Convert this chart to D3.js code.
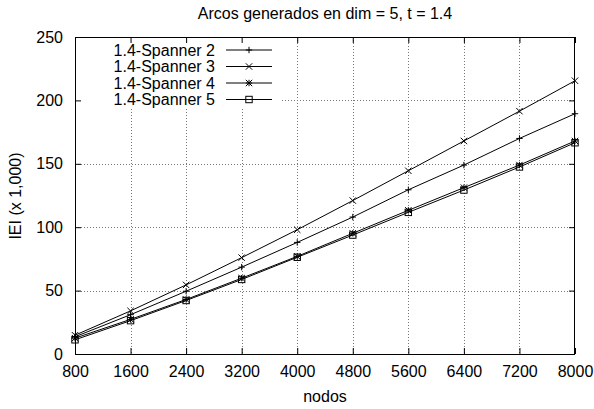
<!DOCTYPE html>
<html><head><meta charset="utf-8">
<script src="https://cdn.jsdelivr.net/npm/d3@7"></script>
<style>body{margin:0;background:#fff}svg{display:block}text{font-family:"Liberation Sans",Arial,sans-serif;fill:#000}</style>
</head><body>
<script>
const nodos = [800,1600,2400,3200,4000,4800,5600,6400,7200,8000];
const spanner2 = [13.6,31,49.5,68.5,88,108,129.5,149,170,189.5];
const spanner3 = [14.8,34,54.5,76,98,121,144.5,168,191.5,215.5];
const spanner4 = [12.5,27.3,43,59.8,77,95.2,113.3,131.2,149,168];
const spanner5 = [11.2,26.3,42.2,58.8,76.3,93.8,111.7,129.3,147.5,166.6];
const seriesNames = ["1.4-Spanner 2","1.4-Spanner 3","1.4-Spanner 4","1.4-Spanner 5"];
const yTicks = [0,50,100,150,200,250];
const title = "Arcos generados en dim = 5, t = 1.4";
const xLabel = "nodos";
const yLabel = "IEI (x 1,000)";

const FS="16px";
const W=594,H=409, m={l:75,r:19,t:37,b:55};
const svg=d3.select("body").append("svg").attr("width",W).attr("height",H);
const x=d3.scaleLinear().domain([800,8000]).range([m.l,W-m.r]);
const y=d3.scaleLinear().domain([0,250]).range([H-m.b,m.t]);
const pw=W-m.r-m.l, ph=H-m.b-m.t;

// grid
const grid=svg.append("g").attr("stroke","#777").attr("stroke-width",1).attr("stroke-dasharray","1,2");
nodos.slice(1,-1).forEach(v=>grid.append("line").attr("x1",Math.round(x(v))+0.5).attr("x2",Math.round(x(v))+0.5).attr("y1",m.t).attr("y2",H-m.b));
yTicks.slice(1,-1).forEach(v=>grid.append("line").attr("y1",Math.round(y(v))+0.5).attr("y2",Math.round(y(v))+0.5).attr("x1",m.l).attr("x2",W-m.r));

// legend background
svg.append("rect").attr("x",m.l+1).attr("y",m.t+1).attr("width",206).attr("height",71).attr("fill","#fff");

// axes with ticks inward
const ax=svg.append("g");
ax.append("g").attr("transform",`translate(0,${H-m.b})`).call(d3.axisBottom(x).tickValues(nodos).tickSize(-6).tickPadding(12).tickFormat(d3.format("d")));
ax.append("g").attr("transform",`translate(0,${m.t})`).call(d3.axisTop(x).tickValues(nodos).tickSize(-6).tickFormat(""));
ax.append("g").attr("transform",`translate(${m.l},0)`).call(d3.axisLeft(y).tickValues(yTicks).tickSize(-6).tickPadding(12));
ax.append("g").attr("transform",`translate(${W-m.r},0)`).call(d3.axisRight(y).tickValues(yTicks).tickSize(-6).tickFormat(""));
ax.selectAll(".domain").remove();
ax.selectAll("line").attr("stroke","#000");
ax.selectAll("text").style("font-size",FS).style("font-family","'Liberation Sans',Arial,sans-serif");
svg.append("rect").attr("x",m.l+0.5).attr("y",m.t+0.5).attr("width",pw-1).attr("height",ph).attr("fill","none").attr("stroke","#000");

// markers
function marker(g,type,cx,cy){
  const s=3.2;
  if(type==="plus"||type==="star"){
    g.append("path").attr("d",`M${cx-s},${cy}H${cx+s}M${cx},${cy-s}V${cy+s}`).attr("stroke","#000").attr("fill","none");
  }
  if(type==="cross"||type==="star"){
    g.append("path").attr("d",`M${cx-s},${cy-s}L${cx+s},${cy+s}M${cx-s},${cy+s}L${cx+s},${cy-s}`).attr("stroke","#000").attr("fill","none");
  }
  if(type==="square"){
    g.append("rect").attr("x",cx-3.2).attr("y",cy-3.2).attr("width",6.4).attr("height",6.4).attr("fill","none").attr("stroke","#000");
  }
}
const allSeries=[spanner2,spanner3,spanner4,spanner5];
const types=["plus","cross","star","square"];
const line=d3.line().x((d,i)=>x(nodos[i])).y(d=>y(d));
allSeries.forEach((s,k)=>{
  const g=svg.append("g");
  g.append("path").datum(s).attr("d",line).attr("fill","none").attr("stroke","#000").attr("stroke-width",1);
  s.forEach((v,i)=>marker(g,types[k],x(nodos[i]),y(v)));
});

// legend
const ly=[50,66.5,83,99.5];
seriesNames.forEach((n,k)=>{
  svg.append("text").attr("x",215).attr("y",ly[k]).attr("dy","0.35em").attr("text-anchor","end").style("font-size",FS).text(n);
  svg.append("line").attr("x1",226).attr("x2",272).attr("y1",ly[k]).attr("y2",ly[k]).attr("stroke","#000");
  marker(svg,types[k],249,ly[k]);
});

svg.append("text").attr("x",325).attr("y",13).attr("dy","0.35em").attr("text-anchor","middle").style("font-size",FS).text(title);
svg.append("text").attr("x",325).attr("y",396).attr("dy","0.35em").attr("text-anchor","middle").style("font-size",FS).text(xLabel);
svg.append("text").attr("transform","translate(15,196) rotate(-90)").attr("dy","0.35em").attr("text-anchor","middle").style("font-size",FS).text(yLabel);
</script>
</body></html>
